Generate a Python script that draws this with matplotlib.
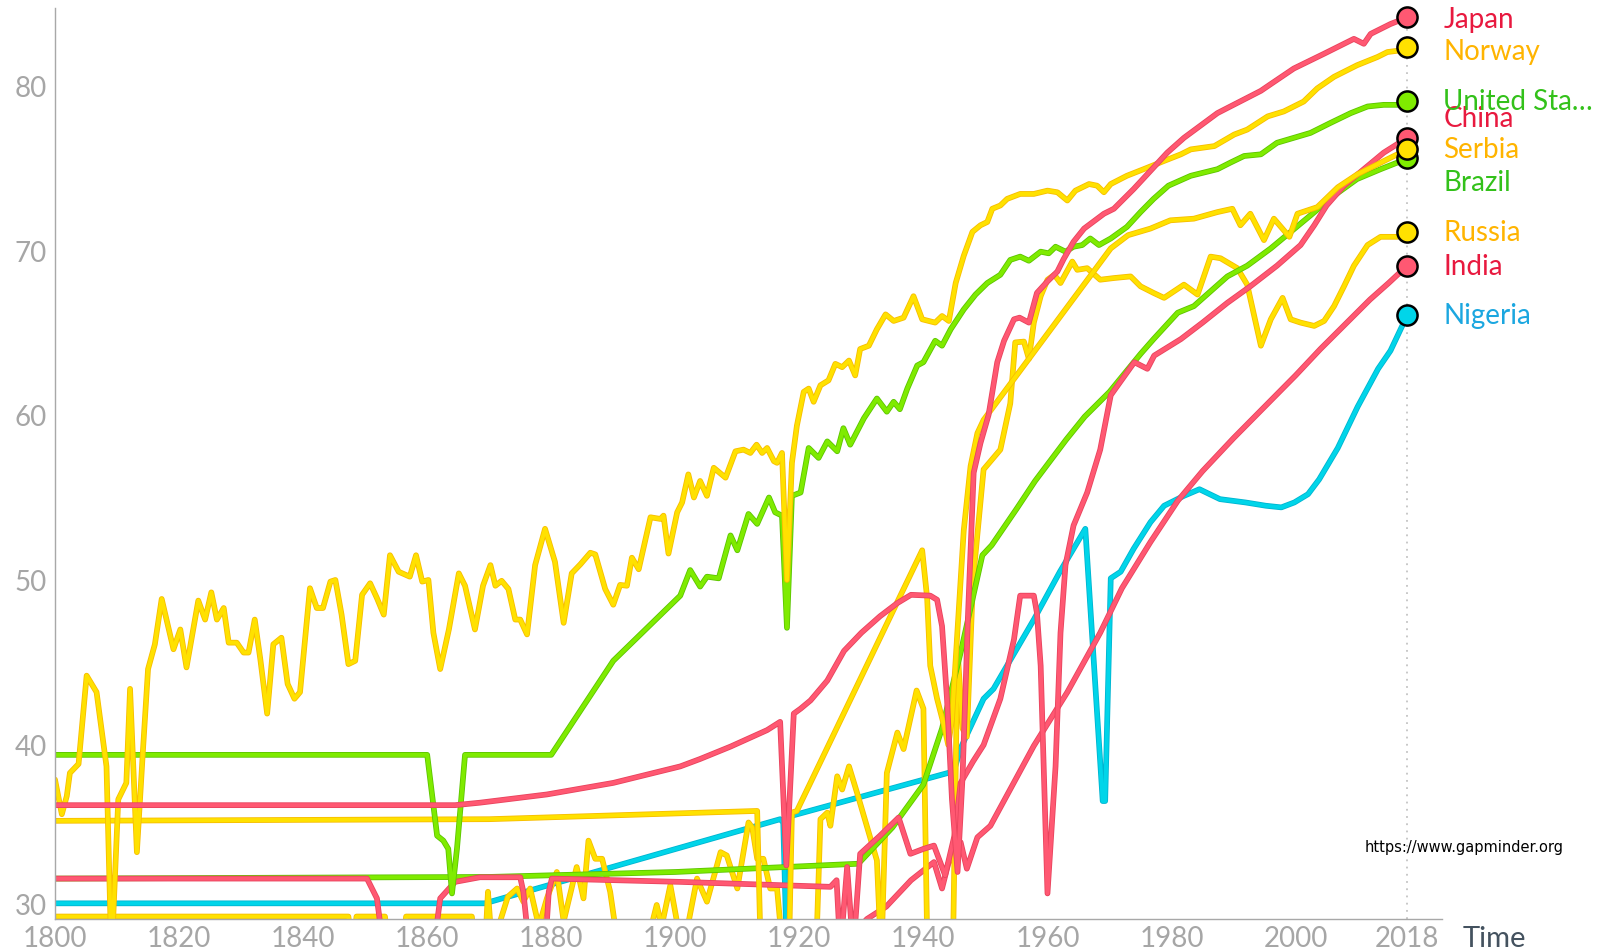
import matplotlib
matplotlib.use("Agg")
import matplotlib.pyplot as plt
import matplotlib.patheffects as pe
from matplotlib.transforms import ScaledTranslation

# life expectancy (years)
japan_years = [1800, 1864.5, 1868.5, 1879.3, 1890, 1900.8, 1904, 1908.9, 1914.8, 1916.9, 1917.9, 1919.1,
               1920.2, 1921.8, 1924.5, 1927.2, 1930, 1933, 1935.8, 1938, 1941.1, 1942.2, 1943, 1943.8,
               1944.6, 1945.5, 1946.3, 1947.2, 1948.1, 1949.2, 1950.5, 1951.9, 1953, 1954.6, 1955.5, 1957,
               1958.3, 1960, 1961.6, 1962.6, 1964.2, 1965.9, 1969.1, 1970.7, 1973.9, 1977.1, 1979.3, 1982,
               1987.4, 1994.4, 1996, 1999.7, 2004.6, 2009.4, 2011, 2012.1, 2015.3, 2018]
japan_life = [36.35, 36.35, 36.5, 37.0, 37.7, 38.7, 39.15, 39.9, 40.9, 41.4, 32.7, 41.9,
              42.2, 42.7, 43.9, 45.7, 46.8, 47.8, 48.6, 49.1, 49.05, 48.8, 47.2, 42.8,
              36.7, 32.3, 38.0, 48.0, 56.5, 58.3, 60.0, 63.2, 64.5, 65.8, 65.9, 65.6,
              67.4, 68.1, 68.7, 69.45, 70.5, 71.3, 72.2, 72.5, 73.7, 75.0, 75.9, 76.8,
              78.3, 79.65, 80.06, 81.0, 81.9, 82.8, 82.5, 83.1, 83.7, 84.1]

norway_years = [1800, 1801.1, 1801.9, 1802.4, 1803.8, 1805.1, 1806.7, 1808.3, 1809.1, 1810.2, 1811.5, 1812.1,
                1813.2, 1814.2, 1815, 1816.1, 1817.2, 1819.1, 1820.2, 1821.2, 1823.1, 1824.2, 1825.2, 1826.1,
                1827.2, 1828, 1829.3, 1830.4, 1831.2, 1832.2, 1833.1, 1834.2, 1835.2, 1836.5, 1837.5, 1838.6,
                1839.5, 1841.1, 1842.2, 1843.2, 1844.4, 1845.2, 1846.2, 1847.3, 1848.4, 1849.5, 1850.8, 1851.9,
                1853, 1854, 1855.4, 1857.2, 1858.2, 1859.2, 1860.2, 1861, 1862.1, 1863.5, 1865.1, 1866.1,
                1867.7, 1869, 1870.2, 1871, 1872, 1873.1, 1874.2, 1875, 1876.1, 1877.4, 1879, 1880.6,
                1882, 1883.3, 1884.7, 1886.3, 1887.1, 1888.7, 1890, 1891.1, 1892.2, 1893, 1894.1, 1896,
                1897.6, 1898.1, 1898.9, 1900.3, 1901.1, 1902.1, 1903, 1904, 1905.1, 1906.2, 1908.1, 1909.7,
                1911, 1912.1, 1913.1, 1914, 1914.8, 1915.9, 1916.4, 1917.2, 1918, 1918.8, 1919.6, 1920.7,
                1921.5, 1922.3, 1923.4, 1924.7, 1925.8, 1926.9, 1928, 1929, 1929.8, 1931.2, 1932.5, 1933.9,
                1935.2, 1936.8, 1938.4, 1939.8, 1941.9, 1943, 1944.1, 1945.2, 1946.5, 1947.9, 1949.2, 1950.3,
                1951.1, 1952.4, 1953.5, 1955.6, 1957.8, 1960, 1961.6, 1963.2, 1964.5, 1966.7, 1968, 1969.1,
                1970.2, 1972.8, 1975.5, 1978.8, 1981.5, 1983.1, 1986.9, 1990.1, 1992.2, 1995.5, 1998.1, 2001.3,
                2003.5, 2006.2, 2009.9, 2013.2, 2014.8, 2016.9, 2018]
norway_life = [37.9, 35.8, 36.9, 38.3, 38.85, 44.2, 43.2, 38.7, 27.0, 36.7, 37.7, 43.4,
               33.5, 39.8, 44.6, 46.1, 48.85, 45.8, 47.0, 44.7, 48.75, 47.6, 49.25, 47.6,
               48.3, 46.2, 46.2, 45.6, 45.6, 47.6, 45.2, 41.9, 46.1, 46.5, 43.7, 42.8,
               43.2, 49.5, 48.3, 48.3, 49.9, 50.0, 47.9, 44.9, 45.1, 49.1, 49.8, 48.9,
               47.9, 51.5, 50.5, 50.2, 51.5, 49.9, 50.0, 46.8, 44.6, 47.0, 50.4, 49.65,
               47.0, 49.65, 50.9, 49.65, 49.95, 49.45, 47.6, 47.6, 46.7, 50.9, 53.1, 51.1,
               47.4, 50.4, 50.95, 51.65, 51.55, 49.45, 48.5, 49.7, 49.65, 51.35, 50.65, 53.8,
               53.7, 53.9, 51.6, 54.1, 54.7, 56.4, 55.0, 56.0, 55.1, 56.8, 56.2, 57.8,
               57.9, 57.7, 58.2, 57.7, 58.0, 57.2, 57.1, 57.7, 50.0, 57.1, 59.35, 61.4,
               61.6, 60.8, 61.8, 62.1, 63.1, 62.9, 63.3, 62.4, 64.0, 64.2, 65.2, 66.1,
               65.7, 65.9, 67.2, 65.8, 65.6, 66.0, 65.7, 68.0, 69.65, 71.1, 71.5, 71.7,
               72.5, 72.7, 73.1, 73.4, 73.4, 73.6, 73.5, 73.0, 73.6, 74.0, 73.9, 73.5,
               74.0, 74.5, 74.9, 75.4, 75.8, 76.1, 76.3, 77.0, 77.3, 78.1, 78.4, 79.0,
               79.8, 80.5, 81.2, 81.7, 82.0, 82.1, 82.3]

usa_years = [1800, 1860, 1861.6, 1862.6, 1863.4, 1864, 1864.8, 1866.1, 1880, 1890, 1900.8, 1902.4,
             1904, 1905.1, 1907, 1908.9, 1910, 1911.8, 1913.2, 1915.1, 1916.1, 1917.2, 1918, 1918.8,
             1920.2, 1921.5, 1923.1, 1924.5, 1926.1, 1927.1, 1928.2, 1930.4, 1932.5, 1934.1, 1935.2, 1936.2,
             1937.4, 1939, 1940, 1941.9, 1943, 1944.4, 1946.5, 1948.4, 1950.3, 1952.4, 1954, 1955.6,
             1957, 1958.9, 1960.2, 1961.3, 1962.9, 1964.2, 1965.6, 1966.9, 1968.3, 1970.2, 1972.8, 1975,
             1977.1, 1979.5, 1983.1, 1987.4, 1989.5, 1991.7, 1994.4, 1997, 1999.7, 2002.4, 2005.6, 2008.9,
             2011.6, 2014.2, 2016.7, 2018]
usa_life = [39.4, 39.4, 34.5, 34.2, 33.7, 31.0, 33.7, 39.4, 39.4, 45.1, 49.05, 50.6,
            49.6, 50.2, 50.1, 52.7, 51.8, 54.0, 53.4, 55.0, 54.1, 53.9, 47.1, 55.1,
            55.3, 58.0, 57.4, 58.4, 57.8, 59.2, 58.2, 59.8, 61.0, 60.2, 60.8, 60.35,
            61.6, 63.0, 63.2, 64.5, 64.2, 65.2, 66.4, 67.3, 68.0, 68.5, 69.4, 69.6,
            69.35, 69.9, 69.8, 70.2, 69.9, 70.2, 70.3, 70.7, 70.3, 70.7, 71.4, 72.3,
            73.1, 73.9, 74.5, 74.9, 75.3, 75.7, 75.8, 76.5, 76.8, 77.1, 77.7, 78.3,
            78.7, 78.8, 78.8, 79.05]

china_years = [1800, 1850.3, 1851.9, 1853, 1861, 1862.1, 1864.5, 1868.5, 1875, 1875.5, 1876.5, 1879,
               1879.6, 1880.1, 1900.8, 1916.9, 1925, 1926, 1926.6, 1927.7, 1928.7, 1929.8, 1933, 1936,
               1937.9, 1940, 1941.7, 1943.5, 1945, 1946, 1948, 1949.7, 1952.4, 1954.6, 1955.6, 1957.8,
               1958.3, 1958.9, 1960, 1961.3, 1962.1, 1962.9, 1964.2, 1966.4, 1968.5, 1970.2, 1974, 1976.1,
               1977.2, 1981.5, 1985, 1989, 1992.7, 1997, 2000.8, 2003, 2005, 2007.8, 2011, 2014.2, 2018]
china_life = [31.9, 31.9, 30.7, 27.5, 27.5, 30.7, 31.7, 31.98, 31.98, 31.1, 27.5, 27.5,
              31.1, 31.9, 31.7, 31.5, 31.4, 31.8, 27.5, 32.6, 27.5, 33.4, 34.5, 35.6,
              33.4, 33.7, 33.9, 32.1, 34.5, 37.7, 39.0, 40.0, 42.8, 46.4, 49.05, 49.05,
              48.0, 44.8, 31.0, 38.7, 46.8, 50.9, 53.3, 55.3, 57.9, 61.2, 63.2, 62.8,
              63.6, 64.6, 65.6, 66.8, 67.8, 69.05, 70.3, 71.5, 72.7, 73.9, 74.9, 75.9, 76.8]

serbia_years = [1800, 1870, 1913.2, 1913.8, 1918.3, 1918.8, 1919.6, 1939.8, 1940.6, 1941.1, 1942.2, 1943.3,
                1944, 1944.6, 1945.5, 1946.5, 1947.6, 1948.7, 1949.7, 1970.2, 1973, 1976.6, 1979.8, 1983.6,
                1987.4, 1989.8, 1991.1, 1992.7, 1994.9, 1996.5, 1999, 2000.3, 2003.5, 2006.8, 2010, 2013.2,
                2016.4, 2018]
serbia_life = [35.4, 35.5, 36.0, 27.0, 27.0, 35.9, 36.0, 51.8, 48.9, 44.8, 42.8, 41.2,
               40.0, 41.5, 47.0, 53.0, 56.9, 58.9, 59.7, 70.1, 70.9, 71.3, 71.8, 71.9,
               72.3, 72.5, 71.5, 72.2, 70.6, 71.9, 70.8, 72.2, 72.6, 73.8, 74.6, 75.2,
               75.8, 76.1]

brazil_years = [1800, 1870, 1900, 1929.5, 1935, 1940, 1943, 1946, 1949.5, 1951, 1955, 1958,
                1963, 1966, 1970, 1975, 1977.1, 1981, 1983.6, 1989, 1992.2, 1996, 1999.2, 2002.4,
                2006.2, 2009.9, 2013.7, 2016.4, 2018]
brazil_life = [31.9, 32.0, 32.3, 32.8, 35.0, 37.6, 41.0, 45.6, 51.5, 52.1, 54.3, 56.0,
               58.5, 59.9, 61.4, 63.7, 64.6, 66.2, 66.6, 68.4, 69.05, 70.1, 71.1, 72.1,
               73.3, 74.3, 74.9, 75.3, 75.55]

russia_years = [1800, 1847.3, 1848, 1848.6, 1853.2, 1853.8, 1856, 1856.6, 1867.2, 1867.8, 1869.3, 1869.8,
                1870.3, 1871.5, 1873, 1874.5, 1875.5, 1876.6, 1878, 1879.3, 1880.9, 1882, 1884.1, 1885.2,
                1886, 1887.1, 1888.2, 1889.5, 1890.5, 1892, 1896, 1897, 1897.8, 1899.2, 1900.5, 1902,
                1903.5, 1905.1, 1907.3, 1908.3, 1910, 1911.8, 1912.4, 1913.2, 1914.2, 1915.3, 1916.4, 1917.2,
                1922.5, 1923.4, 1924.5, 1925, 1926.1, 1926.9, 1928, 1929.3, 1932.5, 1933.2, 1934.1, 1935.8,
                1936.8, 1938.9, 1940, 1940.7, 1944.7, 1945.5, 1946.3, 1947, 1948, 1949.7, 1952.4, 1954,
                1954.8, 1956.2, 1957, 1957.8, 1958.9, 1960, 1961.1, 1962.1, 1964, 1964.8, 1966.4, 1968.5,
                1970.7, 1973.4, 1975, 1977.1, 1978.8, 1980, 1982, 1984.2, 1986.3, 1987.9, 1990.6, 1992.2,
                1994.4, 1996, 1997.9, 1999.2, 2000.8, 2003, 2004.6, 2006.2, 2007.8, 2009.4, 2011.6, 2013.7,
                2016.4, 2018]
russia_life = [29.6, 29.6, 27.5, 29.6, 29.6, 27.5, 27.5, 29.6, 29.6, 27.5, 27.5, 31.1,
               28.5, 29.0, 30.8, 31.3, 30.5, 31.3, 29.0, 30.7, 32.3, 29.3, 32.6, 30.7,
               34.2, 33.1, 33.1, 31.1, 28.5, 27.5, 28.8, 30.3, 29.0, 31.5, 28.8, 29.0,
               31.9, 30.5, 33.5, 33.3, 31.3, 35.3, 35.0, 33.1, 33.1, 31.3, 31.3, 28.0,
               25.0, 35.5, 35.9, 35.1, 38.1, 37.3, 38.7, 37.1, 33.0, 27.0, 38.3, 40.75,
               39.75, 43.3, 42.2, 26.0, 26.0, 45.8, 41.0, 40.5, 50.0, 56.7, 57.9, 60.7,
               64.4, 64.45, 63.4, 65.6, 67.2, 68.2, 68.5, 68.0, 69.3, 68.8, 68.9, 68.2,
               68.3, 68.4, 67.8, 67.4, 67.1, 67.4, 67.9, 67.3, 69.6, 69.5, 68.9, 67.9,
               64.2, 65.8, 67.1, 65.8, 65.6, 65.4, 65.7, 66.6, 67.8, 69.05, 70.3, 70.8,
               70.8, 71.1]

india_years = [1800, 1920, 1930.9, 1934, 1938, 1941.7, 1943, 1944, 1946, 1947, 1948.7, 1950.8,
               1957.8, 1963.2, 1968.5, 1972, 1976.6, 1981, 1985, 1990, 1995, 2000, 2004, 2008,
               2012, 2015, 2018]
india_life = [25.4, 25.0, 29.45, 30.2, 31.8, 32.9, 31.3, 32.8, 34.1, 32.5, 34.4, 35.1,
              39.95, 43.2, 46.8, 49.5, 52.3, 54.8, 56.6, 58.6, 60.5, 62.4, 64.0, 65.5,
              67.0, 68.0, 69.05]

nigeria_years = [1800, 1869.3, 1916.9, 1917.4, 1918, 1918.7, 1944.9, 1946, 1949.7, 1951.3, 1957.8, 1962,
                 1966.1, 1968.9, 1969.3, 1970.2, 1971.8, 1973.9, 1976.6, 1978.8, 1982, 1984.5, 1987.8, 1991.9,
                 1995.2, 1997.7, 1999.8, 2002, 2003.8, 2006.8, 2010, 2013.3, 2015.3, 2018]
nigeria_life = [30.4, 30.4, 35.5, 35.3, 27.0, 35.7, 38.4, 39.8, 42.8, 43.4, 47.6, 50.5,
                53.1, 36.6, 36.6, 50.1, 50.5, 51.9, 53.5, 54.5, 55.1, 55.5, 54.9, 54.7,
                54.5, 54.4, 54.7, 55.2, 56.1, 58.0, 60.5, 62.8, 63.9, 66.05]

xticks = [1800, 1820, 1840, 1860, 1880, 1900, 1920, 1940, 1960, 1980, 2000, 2018]
yticks = [30, 40, 50, 60, 70, 80]

# line colour, edge colour, label colour
red = ("#ff5872", "#e8435d", "#e8193f")
yellow = ("#ffe100", "#f7bd00", "#ffb400")
green = ("#7feb00", "#5cc400", "#33c11a")
cyan = ("#00d5e9", "#00b4d0", "#1ba7e0")
series = [
    ("Nigeria", "Nigeria", nigeria_years, nigeria_life, cyan),
    ("India", "India", india_years, india_life, red),
    ("Russia", "Russia", russia_years, russia_life, yellow),
    ("Brazil", "Brazil", brazil_years, brazil_life, green),
    ("China", "China", china_years, china_life, red),
    ("Serbia", "Serbia", serbia_years, serbia_life, yellow),
    ("United States", "United Sta\u2026", usa_years, usa_life, green),
    ("Norway", "Norway", norway_years, norway_life, yellow),
    ("Japan", "Japan", japan_years, japan_life, red),
]
# small vertical nudges the label layout applies to avoid collisions
label_nudge = {"Japan": -0.1, "Norway": -0.25, "China": 1.2, "Brazil": -1.45}

plt.rcParams["font.family"] = ["Lato", "DejaVu Sans"]

fig = plt.figure(figsize=(16, 9.53), dpi=100)
ax = fig.add_axes([55 / 1600, 1 - 920 / 953, (1442 - 55) / 1600, (920 - 9) / 953])
ax.set_xlim(1800, 2023.6)
ax.set_ylim(29.45, 84.67)

for s in ["top", "right"]:
    ax.spines[s].set_visible(False)
for s in ["left", "bottom"]:
    ax.spines[s].set_color("#a8a8a8")
    ax.spines[s].set_linewidth(1.0)

ax.set_xticks(xticks)
ax.set_yticks(yticks)
ax.tick_params(length=0, labelsize=20, labelcolor="#a6a6a6")
ax.tick_params(axis="x", pad=4)
ax.tick_params(axis="y", pad=6)
lab30 = ax.get_yticklabels()[0]
lab30.set_transform(lab30.get_transform() + ScaledTranslation(0, 6 / 100, fig.dpi_scale_trans))

ax.plot([2018, 2018], [29.45, 84.1], ls=(0, (1, 3)), color="#c4c4c4", lw=1.3, zorder=1)

for name, text, yrs, vals, (col, edge, tcol) in series:
    ax.plot(yrs, vals, color=col, lw=2.9, solid_joinstyle="round", solid_capstyle="round",
            path_effects=[pe.Stroke(linewidth=4.1, foreground=edge), pe.Normal()], zorder=2)

for name, text, yrs, vals, (col, edge, tcol) in series:
    ax.plot([yrs[-1]], [vals[-1]], "o", ms=14.5, mfc=col, mec="black", mew=1.8,
            zorder=5, clip_on=False)
    ax.annotate(text, xy=(yrs[-1], vals[-1] + label_nudge.get(name, 0)), xytext=(26, 0),
                textcoords="offset points", ha="left", va="center", fontsize=20, color=tcol,
                annotation_clip=False)

fig.text(1365 / 1600, 1 - 848 / 953, "https://www.gapminder.org", ha="left", va="center",
         fontsize=10.5, family="DejaVu Sans", color="black")
fig.text(1463 / 1600, 1 - 939 / 953, "Time", ha="left", va="center", fontsize=21, color="#44525f")

fig.savefig("out.png", dpi=100)
